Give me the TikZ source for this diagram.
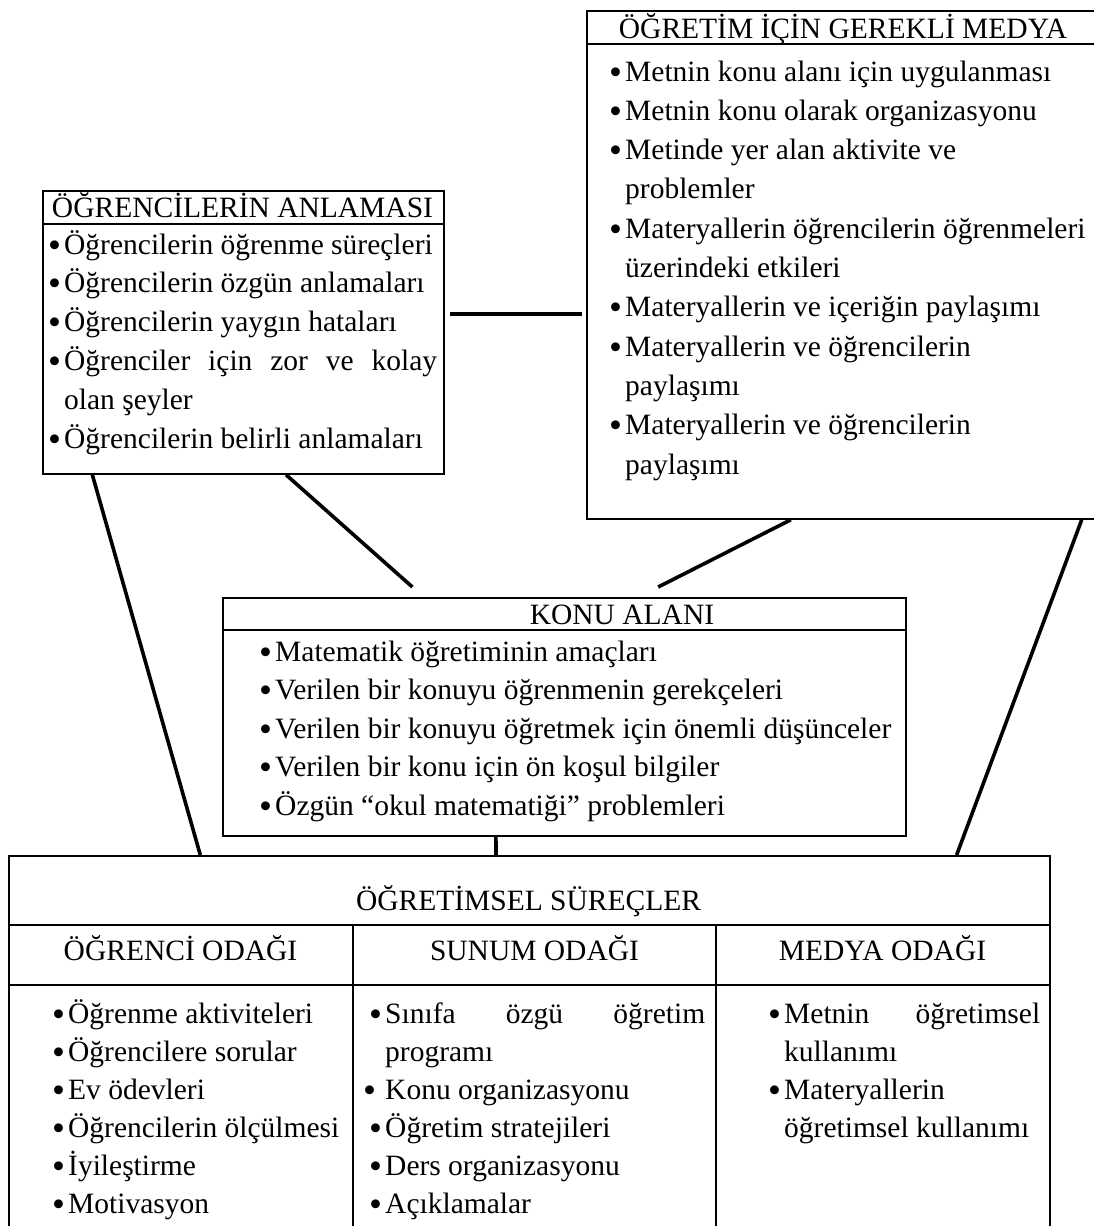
\documentclass[tikz,border=0pt]{standalone}
\usepackage{fontspec}
\usepackage{graphicx}
\setmainfont{Liberation Serif}
\usetikzlibrary{calc}
% list bullet: a slightly enlarged dot in a fixed-width box
\newcommand{\dotmark}{\raisebox{-3pt}{\scalebox{1.25}{\textbullet}}}
\newcommand{\bul}{\makebox[14pt][l]{\hspace*{-2pt}\dotmark}}
\begin{document}
\begin{tikzpicture}[x=1pt,y=-1pt,
  box/.style={draw, line width=1.8pt, rectangle, inner sep=0pt, anchor=north west},
  conn/.style={line width=3.6pt},
  rule/.style={line width=1.8pt},
  txt/.style={anchor=base west, inner sep=0pt, font=\fontsize{29.5}{38.5}\selectfont},
  head/.style={anchor=base, inner sep=0pt, font=\fontsize{29.5}{38.5}\selectfont}]
\useasboundingbox (0,0) rectangle (1094,1226);
\clip (0,0) rectangle (1094,1226);

% ---------- boxes ----------
\node[box, minimum width=514pt, minimum height=508pt] (medya) at (586,10) {};
\node[box, minimum width=401pt, minimum height=283pt] (anlama) at (42,190) {};
\node[box, minimum width=683pt, minimum height=238pt] (konu) at (222,597) {};
\node[box, minimum width=1041pt, minimum height=400pt] (surec) at (8,855) {};

% header rules and table grid
\draw[rule] (586,44) -- (1100,44);
\draw[rule] (42,224) -- (443,224);
\draw[rule] (222,630) -- (905,630);
\draw[rule] (8,925) -- (1049,925);
\draw[rule] (8,985) -- (1049,985);
\draw[rule] (353,925) -- (353,1260);
\draw[rule] (716,925) -- (716,1260);

% ---------- media box ----------
\node[head] (mh) at (843,38) {ÖĞRETİM İÇİN GEREKLİ MEDYA};
\node[txt] (m1)  at (611,81)    {\bul Metnin konu alanı için uygulanması};
\node[txt] (m2)  at (611,120.3) {\bul Metnin konu olarak organizasyonu};
\node[txt] (m3)  at (611,159.6) {\bul Metinde yer alan aktivite ve};
\node[txt] (m4)  at (625,198.9) {problemler};
\node[txt] (m5)  at (611,238.2) {\bul Materyallerin öğrencilerin öğrenmeleri};
\node[txt] (m6)  at (625,277.5) {üzerindeki etkileri};
\node[txt] (m7)  at (611,316.8) {\bul Materyallerin ve içeriğin paylaşımı};
\node[txt] (m8)  at (611,356.1) {\bul Materyallerin ve öğrencilerin};
\node[txt] (m9)  at (625,395.4) {paylaşımı};
\node[txt] (m10) at (611,434.7) {\bul Materyallerin ve öğrencilerin};
\node[txt] (m11) at (625,474)   {paylaşımı};

% ---------- students' understanding ----------
\node[head] (ah) at (242.5,217) {ÖĞRENCİLERİN ANLAMASI};
\node[txt] (a1) at (50,254)   {\bul Öğrencilerin öğrenme süreçleri};
\node[txt] (a2) at (50,292.8) {\bul Öğrencilerin özgün anlamaları};
\node[txt] (a3) at (50,331.6) {\bul Öğrencilerin yaygın hataları};
\node[txt] (a4) at (50,370.4) {\bul\makebox[373pt][s]{Öğrenciler için zor ve kolay}};
\node[txt] (a5) at (64,409.2) {olan şeyler};
\node[txt] (a6) at (50,448)   {\bul Öğrencilerin belirli anlamaları};

% ---------- subject area ----------
\node[head] (kh) at (622,624) {KONU ALANI};
\node[txt] (k1) at (261,661)   {\bul Matematik öğretiminin amaçları};
\node[txt] (k2) at (261,699.5) {\bul Verilen bir konuyu öğrenmenin gerekçeleri};
\node[txt] (k3) at (261,738)   {\bul Verilen bir konuyu öğretmek için önemli düşünceler};
\node[txt] (k4) at (261,776.5) {\bul Verilen bir konu için ön koşul bilgiler};
\node[txt] (k5) at (261,815)   {\bul Özgün “okul matematiği” problemleri};

% ---------- instructional processes ----------
\node[head] (sh) at (528.5,910) {ÖĞRETİMSEL SÜREÇLER};
\node[head] (s1h) at (180.5,960) {ÖĞRENCİ ODAĞI};
\node[head] (s2h) at (534.5,960) {SUNUM ODAĞI};
\node[head] (s3h) at (882.5,960) {MEDYA ODAĞI};

\node[txt] (p1) at (54,1023) {\bul Öğrenme aktiviteleri};
\node[txt] (p2) at (54,1061) {\bul Öğrencilere sorular};
\node[txt] (p3) at (54,1099) {\bul Ev ödevleri};
\node[txt] (p4) at (54,1137) {\bul Öğrencilerin ölçülmesi};
\node[txt] (p5) at (54,1175) {\bul İyileştirme};
\node[txt] (p6) at (54,1213) {\bul Motivasyon};

\node[txt] (q1) at (371,1023) {\bul\makebox[320pt][s]{Sınıfa özgü öğretim}};
\node[txt] (q2) at (385,1061) {programı};
\node[txt] (q3) at (365,1099) {\makebox[20pt][l]{\hspace*{-2pt}\dotmark}Konu organizasyonu};
\node[txt] (q4) at (371,1137) {\bul Öğretim stratejileri};
\node[txt] (q5) at (371,1175) {\bul Ders organizasyonu};
\node[txt] (q6) at (371,1213) {\bul Açıklamalar};

\node[txt] (r1) at (770,1023) {\bul\makebox[256pt][s]{Metnin öğretimsel}};
\node[txt] (r2) at (784,1061) {kullanımı};
\node[txt] (r3) at (770,1099) {\bul Materyallerin};
\node[txt] (r4) at (784,1137) {öğretimsel kullanımı};

% ---------- connectors ----------
\coordinate (hc) at (0,314);
\draw[conn] ($(anlama.east |- hc)+(5,0)$) -- ($(medya.west |- hc)+(-4,0)$);
\draw[conn] ($(anlama.south west)!0.125!(anlama.south east)$) -- ($(surec.north west)!0.1844!(surec.north east)$);
\draw[conn] ($(anlama.south west)!0.606!(anlama.south east)$) -- ($(konu.north west)!0.278!(konu.north east)+(0,-10)$);
\draw[conn] ($(medya.south west)!0.397!(medya.south east)$) -- ($(konu.north west)!0.637!(konu.north east)+(0,-10)$);
\draw[conn] ($(konu.south west)!0.4!(konu.south east)$) -- ($(surec.north west)!0.468!(surec.north east)$);
\draw[conn] ($(medya.south west)!0.961!(medya.south east)$) -- ($(surec.north west)!0.9097!(surec.north east)$);
\end{tikzpicture}
\end{document}
